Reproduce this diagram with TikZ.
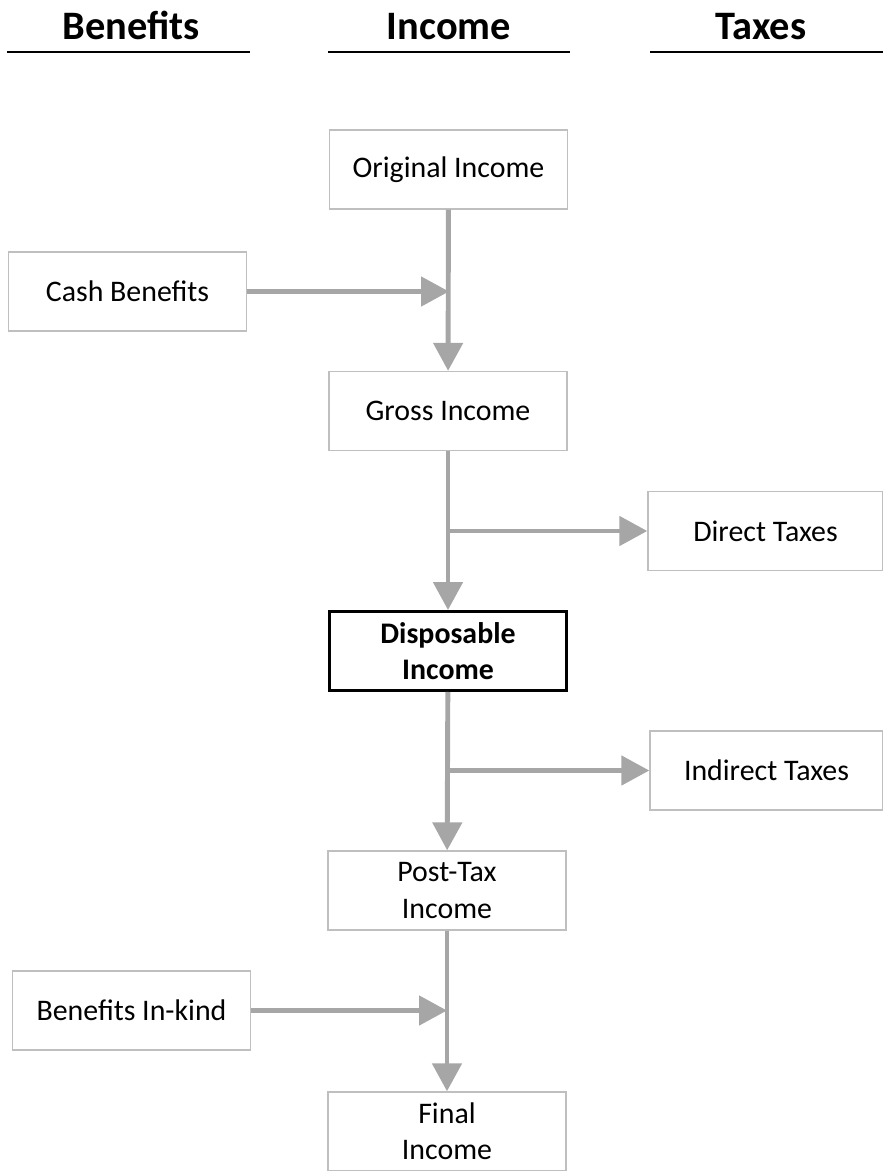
\documentclass[tikz,border=0pt]{standalone}
\usepackage{fontspec}
\setmainfont{Carlito}
\usetikzlibrary{arrows.meta, positioning}
\definecolor{flowgray}{RGB}{166,166,166}
\definecolor{boxgray}{RGB}{191,191,191}

\begin{document}
\begin{tikzpicture}[x=0.02cm,y=-0.02cm,
    box/.style={rectangle,draw=boxgray,line width=0.8pt,minimum width=4.76cm,minimum height=1.58cm,inner sep=0pt,align=center,font=\fontsize{17}{20.5}\selectfont},
    flow/.style={-{Triangle[length=0.56cm,width=0.58cm]},draw=flowgray,line width=2.8pt},
    head/.style={anchor=base,font=\fontsize{23}{26}\selectfont\bfseries}]
    \useasboundingbox (0,0) rectangle (883,1171);

    % Spaltenköpfe
    \node[head] (hben) at (131,39) {Benefits};
    \node[head] (hinc) at (449,39) {Income};
    \node[head] (htax) at (761,39) {Taxes};
    \draw[line width=1.2pt] (7,52) -- (250,52);
    \draw[line width=1.2pt] (328,52) -- (570,52);
    \draw[line width=1.2pt] (650,52) -- (883,52);

    % Einkommensstufen
    \node[box] (orig) at (448.5,169.5) {Original Income};
    \node[box] (cash) at (127.5,291.5) {Cash Benefits};
    \node[box] (gross) at (448,411) {Gross Income};
    \node[box,minimum width=4.7cm] (dtax) at (765.5,531) {Direct Taxes};
    \node[box,draw=black,line width=1.7pt,font=\fontsize{17}{20.5}\selectfont\bfseries] (disp) at (448,651) {Disposable\\Income};
    \node[box,minimum width=4.66cm] (itax) at (766.5,770.5) {Indirect Taxes};
    \node[box] (post) at (447,890.5) {Post-Tax\\Income};
    \node[box] (kind) at (131.5,1010.5) {Benefits In-kind};
    \node[box] (final) at (447,1131.5) {Final\\Income};

    % Verbindungen
    \coordinate (j1) at (449,291.5);
    \coordinate (j2) at (449,531);
    \coordinate (j3) at (449,770.5);
    \coordinate (j4) at (447,1010.5);
    \draw[flow] (orig) -- (gross);
    \draw[flow] (cash) -- (j1);
    \draw[flow] (gross) -- (disp);
    \draw[flow] (j2) -- (dtax);
    \draw[flow] (disp) -- (post);
    \draw[flow] (j3) -- (itax);
    \draw[flow] (post) -- (final);
    \draw[flow] (kind) -- (j4);
\end{tikzpicture}
\end{document}
